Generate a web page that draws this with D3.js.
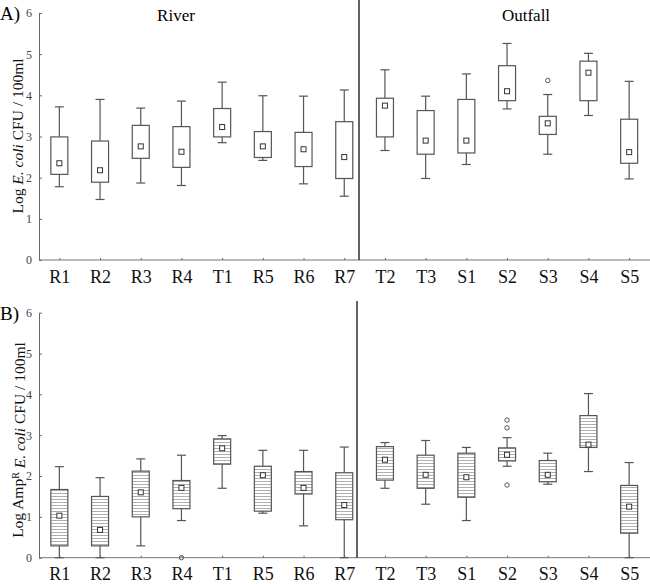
<!DOCTYPE html>
<html>
<head>
<meta charset="utf-8">
<script src="https://cdn.jsdelivr.net/npm/d3@7"></script>
<style>
  body { margin: 0; background: #fff; }
  svg { display: block; font-family: "Liberation Serif", "Times New Roman", serif; }
  svg text { font-family: "Liberation Serif", "Times New Roman", serif; }
</style>
</head>
<body>
<div class="chart-container"></div>
<script>
// Sampling sites
const sites = ['R1', 'R2', 'R3', 'R4', 'T1', 'R5', 'R6', 'R7', 'T2', 'T3', 'S1', 'S2', 'S3', 'S4', 'S5'];
const yTicks = [0, 1, 2, 3, 4, 5, 6];

// Panel A: total E. coli (log CFU / 100ml)
const aLow  = [1.78, 1.47, 1.87, 1.81, 2.85, 2.42, 1.85, 1.55, 2.66, 1.98, 2.32, 3.67, 2.57, 3.51, 1.97];
const aQ1   = [2.08, 1.89, 2.47, 2.25, 2.99, 2.49, 2.27, 1.98, 2.99, 2.57, 2.60, 3.87, 3.05, 3.87, 2.35];
const aQ3   = [2.99, 2.89, 3.27, 3.24, 3.68, 3.12, 3.10, 3.36, 3.93, 3.63, 3.90, 4.72, 3.49, 4.83, 3.42];
const aHigh = [3.72, 3.90, 3.69, 3.86, 4.32, 3.99, 3.98, 4.13, 4.62, 3.98, 4.52, 5.26, 4.02, 5.02, 4.34];
const aMean = [2.35, 2.18, 2.76, 2.63, 3.23, 2.76, 2.69, 2.50, 3.75, 2.90, 2.90, 4.10, 3.32, 4.55, 2.62];
const aOut  = [['S3', 4.36]];

// Panel B: AmpR E. coli (log CFU / 100ml)
const bLow  = [0.00, 0.00, 0.29, 0.91, 1.70, 1.09, 0.78, 0.00, 1.70, 1.31, 0.91, 2.24, 1.80, 2.11, 0.00];
const bQ1   = [0.29, 0.29, 1.00, 1.20, 2.29, 1.14, 1.56, 0.93, 1.90, 1.70, 1.48, 2.37, 1.86, 2.70, 0.60];
const bQ3   = [1.67, 1.50, 2.12, 1.89, 2.91, 2.24, 2.11, 2.08, 2.72, 2.51, 2.56, 2.69, 2.38, 3.48, 1.77];
const bHigh = [2.23, 1.96, 2.42, 2.51, 2.99, 2.63, 2.63, 2.71, 2.82, 2.87, 2.70, 2.94, 2.56, 4.02, 2.33];
const bMean = [1.03, 0.68, 1.60, 1.71, 2.68, 2.02, 1.71, 1.29, 2.40, 2.03, 1.97, 2.52, 2.03, 2.77, 1.25];
const bOut  = [['R4', 0.0], ['S2', 3.37], ['S2', 3.18], ['S2', 1.78]];

const width = 650, height = 584;
const svg = d3.select('.chart-container')
    .append('svg')
    .attr('width', width)
    .attr('height', height);

// Horizontal hatch used by panel B boxes
const pat = svg.append('defs').append('pattern')
    .attr('id', 'hatch')
    .attr('patternUnits', 'userSpaceOnUse')
    .attr('width', 6)
    .attr('height', 3);
pat.append('rect').attr('width', 6).attr('height', 3).attr('fill', '#fff');
pat.append('line')
    .attr('x1', 0).attr('x2', 6).attr('y1', 1.5).attr('y2', 1.5)
    .attr('stroke', '#9a9a9a').attr('stroke-width', 0.8);

const x = d3.scalePoint()
    .domain(sites)
    .range([39, 649.5])
    .padding(0.5);

function drawPanel(p) {
    const y = d3.scaleLinear().domain([0, 6]).range([p.bottom, p.top]);
    const g = svg.append('g');

    // Y axis
    const ya = g.append('g')
        .attr('transform', 'translate(39,0)')
        .call(d3.axisLeft(y).tickValues(yTicks).tickFormat(d3.format('d'))
            .tickSizeInner(-3).tickSizeOuter(0).tickPadding(7));
    ya.attr('font-family', null);
    ya.select('.domain').attr('stroke', '#666');
    ya.selectAll('.tick line').attr('stroke', '#666');
    ya.selectAll('.tick text').attr('fill', '#444').style('font-size', '12px');

    // X axis
    const xa = g.append('g')
        .attr('transform', `translate(0,${p.bottom})`)
        .call(d3.axisBottom(x).tickSizeInner(-2).tickSizeOuter(0).tickPadding(10));
    xa.attr('font-family', null);
    xa.select('.domain').attr('stroke', '#777').attr('d', `M39,0H650`);
    xa.selectAll('.tick line').attr('stroke', '#666');
    xa.selectAll('.tick text').attr('fill', '#111').style('font-size', '18px');

    // River / outfall divider
    g.append('line')
        .attr('x1', p.divX).attr('x2', p.divX)
        .attr('y1', p.divTop).attr('y2', p.bottom)
        .attr('stroke', '#222').attr('stroke-width', 1.4);

    const bw = 17, cw = 9;
    const boxes = g.append('g')
        .selectAll('g')
        .data(sites.map((s, i) => ({ s, lo: p.lo[i], q1: p.q1[i], q3: p.q3[i], hi: p.hi[i], m: p.mean[i] })))
        .enter()
        .append('g');

    // whiskers
    boxes.append('line')
        .attr('x1', d => x(d.s)).attr('x2', d => x(d.s))
        .attr('y1', d => y(d.hi)).attr('y2', d => y(d.lo))
        .attr('stroke', '#555').attr('stroke-width', 1.2);
    boxes.append('line')
        .attr('x1', d => x(d.s) - cw / 2).attr('x2', d => x(d.s) + cw / 2)
        .attr('y1', d => y(d.hi)).attr('y2', d => y(d.hi))
        .attr('stroke', '#555').attr('stroke-width', 1.2);
    boxes.append('line')
        .attr('x1', d => x(d.s) - cw / 2).attr('x2', d => x(d.s) + cw / 2)
        .attr('y1', d => y(d.lo)).attr('y2', d => y(d.lo))
        .attr('stroke', '#555').attr('stroke-width', 1.2);

    // boxes
    boxes.append('rect')
        .attr('x', d => x(d.s) - bw / 2)
        .attr('width', bw)
        .attr('y', d => y(d.q3))
        .attr('height', d => y(d.q1) - y(d.q3))
        .attr('fill', p.fill)
        .attr('stroke', '#555').attr('stroke-width', 1.2);

    // mean markers
    boxes.append('rect')
        .attr('x', d => x(d.s) - 2.5).attr('y', d => y(d.m) - 2.5)
        .attr('width', 5).attr('height', 5)
        .attr('fill', '#fff')
        .attr('stroke', '#333').attr('stroke-width', 1);

    // outliers
    g.append('g')
        .selectAll('circle')
        .data(p.out)
        .enter()
        .append('circle')
        .attr('cx', d => x(d[0]))
        .attr('cy', d => y(d[1]))
        .attr('r', 2.2)
        .attr('fill', 'none')
        .attr('stroke', '#555').attr('stroke-width', 1);

    // panel letter
    g.append('text')
        .attr('x', 0).attr('y', p.top + 7)
        .style('font-size', '19px')
        .text(p.letter);

    // y label
    const yl = g.append('text')
        .attr('transform', `translate(23,${p.labelY}) rotate(-90)`)
        .attr('text-anchor', 'middle')
        .style('font-size', '15.5px')
        .attr('fill', '#111');
    p.label(yl);
}

drawPanel({
    top: 13, bottom: 260, divX: 359, divTop: 0,
    lo: aLow, q1: aQ1, q3: aQ3, hi: aHigh, mean: aMean, out: aOut,
    fill: '#fff', letter: 'A)', labelY: 136,
    label: t => {
        t.append('tspan').text('Log ');
        t.append('tspan').style('font-style', 'italic').text('E. coli');
        t.append('tspan').text(' CFU / 100ml');
    }
});

drawPanel({
    top: 312.7, bottom: 557.7, divX: 357, divTop: 301,
    lo: bLow, q1: bQ1, q3: bQ3, hi: bHigh, mean: bMean, out: bOut,
    fill: 'url(#hatch)', letter: 'B)', labelY: 440,
    label: t => {
        t.append('tspan').text('Log Amp');
        t.append('tspan').attr('dy', '-0.45em').style('font-size', '10px').text('R');
        t.append('tspan').attr('dy', '0.45em').text(' ');
        t.append('tspan').style('font-style', 'italic').text('E. coli');
        t.append('tspan').text(' CFU / 100ml');
    }
});

// Group titles
svg.append('text')
    .attr('x', 176).attr('y', 21)
    .attr('text-anchor', 'middle')
    .style('font-size', '17px')
    .text('River');
svg.append('text')
    .attr('x', 526).attr('y', 21)
    .attr('text-anchor', 'middle')
    .style('font-size', '17px')
    .text('Outfall');
</script>
</body>
</html>
